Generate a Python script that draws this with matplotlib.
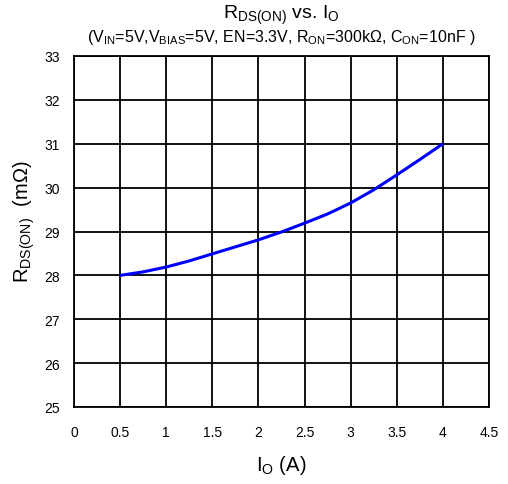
import matplotlib
matplotlib.use("Agg")
import matplotlib.pyplot as plt

plt.rcParams['font.family'] = ['Liberation Sans', 'DejaVu Sans']
plt.rcParams['mathtext.fontset'] = 'custom'
plt.rcParams['mathtext.rm'] = 'Liberation Sans'
plt.rcParams['mathtext.it'] = 'Liberation Sans'
plt.rcParams['mathtext.bf'] = 'Liberation Sans:bold'

io_a = [0.5, 0.75, 1.0, 1.25, 1.5, 1.75, 2.0, 2.25, 2.5, 2.75, 3.0, 3.25, 3.5, 3.75, 4.0]
rds_mohm = [28.0, 28.08, 28.19, 28.33, 28.49, 28.65, 28.81, 28.99, 29.19, 29.40, 29.65, 29.95, 30.29, 30.64, 31.0]
x_ticks = [0, 0.5, 1, 1.5, 2, 2.5, 3, 3.5, 4, 4.5]
x_labels = ['0', '0.5', '1', '1.5', '2', '2.5', '3', '3.5', '4', '4.5']
y_ticks = [25, 26, 27, 28, 29, 30, 31, 32, 33]

fig = plt.figure(figsize=(5.08, 4.85), dpi=100)
ax = fig.add_axes([74/508, 1-408/485, (489-74)/508, (408-57)/485])

ax.plot(io_a, rds_mohm, color='#0000ff', lw=2.2, solid_capstyle='butt', zorder=3)

ax.set_xlim(0, 4.5)
ax.set_ylim(25, 33)
ax.set_xticks(x_ticks)
ax.set_xticklabels(x_labels)
ax.set_yticks(y_ticks)
ax.tick_params(length=0, labelsize=10, colors='black')
ax.tick_params(axis='x', pad=13)
ax.tick_params(axis='y', pad=10)
ax.grid(True, color='black', lw=1.3)
for s in ax.spines.values():
    s.set_color('black')
    s.set_linewidth(1.3)

ax.set_xlabel(r'I$_\mathregular{O}$ (A)', fontsize=14.5, labelpad=10)
ax.set_ylabel(r'R$_\mathregular{DS(ON)}$  (m$\Omega$)', fontsize=14.5)
ax.yaxis.label.set_va('center')
ax.yaxis.set_label_coords(-0.12, 0.53)

fig.text(0.5 * (74 + 489) / 508, 1 - 15/485, r'R$_\mathregular{DS(ON)}$ vs. I$_\mathregular{O}$',
         ha='center', va='center', fontsize=14)
fig.text(0.5 * (74 + 489) / 508, 1 - 38/485,
         r'(V$_\mathregular{IN}$=5V,V$_\mathregular{BIAS}$=5V, EN=3.3V, R$_\mathregular{ON}$=300k$\Omega$, C$_\mathregular{ON}$=10nF )',
         ha='center', va='center', fontsize=11.5)

fig.savefig('out.png', dpi=100)
